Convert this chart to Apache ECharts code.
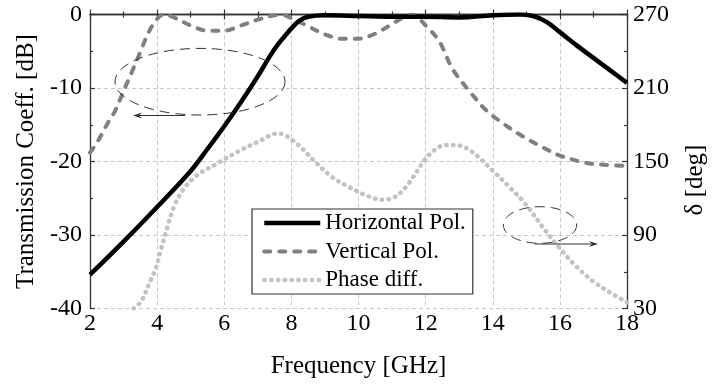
<!DOCTYPE html>
<html><head><meta charset="utf-8">
<script src="https://cdn.jsdelivr.net/npm/echarts@6/dist/echarts.min.js"></script>
<style>html,body{margin:0;padding:0;background:#fff}#c{width:716px;height:392px}</style>
</head><body><div id="c"></div>
<script>
// ---- Data ----
const xTicks = [2, 4, 6, 8, 10, 12, 14, 16, 18];
const dbTicks = [-40, -30, -20, -10, 0];
const degTicks = [30, 90, 150, 210, 270];

const hFreq = [2, 3, 4, 5, 5.5, 6, 6.5, 7, 7.5, 8, 8.25, 8.5, 9, 10, 11, 12, 13, 14, 14.8, 15.2, 15.6, 16, 16.5, 17, 17.5, 18];
const hVals = [-35.4, -30.9, -26.2, -21.3, -18.3, -15.2, -11.9, -8.4, -4.7, -1.9, -0.8, -0.3, -0.1, -0.2, -0.3, -0.3, -0.4, -0.1, 0, -0.2, -1.0, -2.4, -4.2, -5.9, -7.6, -9.3];

const vFreq = [2, 2.25, 2.5, 2.75, 3, 3.25, 3.5, 3.75, 4, 4.2, 4.5, 5, 5.5, 6, 6.5, 7, 7.5, 7.7, 8, 8.5, 9, 9.5, 10, 10.5, 11, 11.3, 11.6, 12, 12.4, 12.8, 13.3, 13.8, 14.3, 14.9, 15.5, 16, 16.8, 17.5, 18];
const vVals = [-18.8, -17.1, -15.0, -13.1, -10.4, -7.8, -5.1, -2.4, -0.6, 0, -0.4, -1.5, -2.2, -2.2, -1.5, -0.7, -0.1, 0, -0.5, -1.6, -2.7, -3.3, -3.3, -2.6, -1.3, -0.5, 0, -1.5, -3.6, -7.4, -10.4, -13.0, -14.8, -16.6, -18.1, -19.2, -20.2, -20.5, -20.6];

const pFreq = [3.3, 3.52, 3.77, 3.96, 4.11, 4.31, 4.5, 4.8, 5.2, 5.8, 6.4, 7.0, 7.6, 8.1, 8.7, 9.2, 9.7, 10.2, 10.7, 11.1, 11.5, 11.9, 12.2, 12.6, 13.0, 13.3, 13.6, 14.0, 14.5, 15.0, 15.5, 16.0, 16.5, 17.0, 17.5, 18.0];
const pVals = [30, 35.6, 50.6, 62.8, 77.8, 96.8, 113, 128, 139, 148.5, 158, 166, 173, 166, 150, 137.6, 129.4, 122.7, 118.8, 121.3, 132.2, 148.5, 158, 163.5, 163, 159.5, 153, 142.5, 129, 114.5, 96, 79, 64, 52, 43, 35];

const seriesNames = ['Horizontal Pol.', 'Vertical Pol.', 'Phase diff.'];

// ---- Chart ----
const FONT = 'Liberation Serif';
const AXIS_COLOR = '#333';
const chart = echarts.init(document.getElementById('c'), null, {renderer: 'canvas'});
function pairs(xs, ys) { return xs.map((x, i) => [x, ys[i]]); }
function ellipsePts(cx, cy, rx, ry) {
  const pts = [];
  for (let i = 0; i < 90; i++) {
    const t = i / 90 * 2 * Math.PI;
    pts.push([cx + rx * Math.cos(t), cy + ry * Math.sin(t)]);
  }
  return pts;
}
const styles = [
  {color: '#000', width: 4.5},
  {color: '#808080', width: 4, type: [6, 9], cap: 'round'},
  {color: '#c3c3c3', width: 4.5, type: [0.5, 6.3], cap: 'round'}
];
const tickCommon = {inside: true, length: 5, lineStyle: {color: AXIS_COLOR, width: 1.2}};
const minorCommon = {show: true, splitNumber: 2, length: 3, lineStyle: {color: AXIS_COLOR, width: 1.2}};
const labelCommon = {fontFamily: FONT, fontSize: 24, color: '#000'};
const nameStyle = {fontFamily: FONT, fontSize: 25, color: '#000'};
const gridLine = {show: true, lineStyle: {color: '#c8c8c8', width: 1, type: [4, 3]}};

const arrowHead = (x, y, dir) => ({
  type: 'polygon',
  shape: {points: [[x, y], [x - dir * 9, y - 3], [x - dir * 6, y], [x - dir * 9, y + 3]]},
  style: {fill: '#333'}
});

chart.setOption({
  animation: false,
  backgroundColor: '#fff',
  grid: {left: 90, right: 83, top: 14.5, bottom: 83.5},
  legend: {
    orient: 'vertical', left: 252, top: 209,
    padding: [2.5, 7, 2.5, 10], itemWidth: 56, itemHeight: 14, itemGap: 5.5,
    borderColor: '#333', borderWidth: 1.2, backgroundColor: '#fff',
    itemStyle: {opacity: 0},
    textStyle: {fontFamily: FONT, fontSize: 23, color: '#000'},
    data: seriesNames.map((n, i) => ({name: n, lineStyle: Object.assign({}, styles[i])}))
  },
  xAxis: [{
    type: 'value', position: 'bottom', min: xTicks[0], max: xTicks[xTicks.length - 1], interval: 2,
    name: 'Frequency [GHz]', nameLocation: 'middle', nameGap: 45.5,
    nameTextStyle: nameStyle,
    axisLine: {show: true, lineStyle: {color: AXIS_COLOR, width: 1.3}},
    axisTick: tickCommon, minorTick: minorCommon,
    axisLabel: Object.assign({margin: 3}, labelCommon),
    splitLine: gridLine
  }, {
    type: 'value', position: 'top', min: xTicks[0], max: xTicks[xTicks.length - 1], interval: 2,
    axisLine: {show: true, lineStyle: {color: AXIS_COLOR, width: 1.3}},
    axisTick: tickCommon, minorTick: minorCommon,
    axisLabel: {show: false}, splitLine: {show: false}
  }],
  yAxis: [{
    type: 'value', position: 'left', min: dbTicks[0], max: dbTicks[dbTicks.length - 1], interval: 10,
    name: 'Transmission Coeff. [dB]', nameLocation: 'middle', nameGap: 50.5,
    nameTextStyle: nameStyle,
    axisLine: {show: true, lineStyle: {color: AXIS_COLOR, width: 1.3}},
    axisTick: tickCommon, minorTick: minorCommon,
    axisLabel: Object.assign({margin: 8}, labelCommon),
    splitLine: gridLine
  }, {
    type: 'value', position: 'right', min: degTicks[0], max: degTicks[degTicks.length - 1], interval: 60,
    name: 'δ [deg]', nameLocation: 'middle', nameGap: 56,
    nameTextStyle: Object.assign({padding: [0, 37, 0, 0]}, nameStyle),
    axisLine: {show: true, lineStyle: {color: AXIS_COLOR, width: 1.3}},
    axisTick: tickCommon, minorTick: minorCommon,
    axisLabel: Object.assign({margin: 6}, labelCommon),
    splitLine: {show: false}
  }],
  series: [{
    name: seriesNames[0], type: 'line', xAxisIndex: 0, yAxisIndex: 0,
    data: pairs(hFreq, hVals), symbol: 'none', smooth: 0.35,
    lineStyle: styles[0], itemStyle: {color: styles[0].color}, z: 4
  }, {
    name: seriesNames[1], type: 'line', xAxisIndex: 0, yAxisIndex: 0,
    data: pairs(vFreq, vVals), symbol: 'none', smooth: 0.35,
    lineStyle: styles[1], itemStyle: {color: styles[1].color}, z: 3
  }, {
    name: seriesNames[2], type: 'line', xAxisIndex: 0, yAxisIndex: 1,
    data: pairs(pFreq, pVals), symbol: 'none', smooth: 0.35,
    lineStyle: styles[2], itemStyle: {color: styles[2].color}, z: 2
  }],
  graphic: [
    {type: 'polygon', shape: {points: ellipsePts(200, 81.7, 85, 33.3)}, style: {fill: 'none', stroke: '#333', lineWidth: 1, lineDash: [10, 6]}, z: 10},
    {type: 'line', shape: {x1: 185, y1: 115.5, x2: 137, y2: 115.5}, style: {stroke: '#333', lineWidth: 1.2}, z: 10},
    arrowHead(133, 115.5, -1),
    {type: 'polygon', shape: {points: ellipsePts(540, 225, 36.7, 18.3)}, style: {fill: 'none', stroke: '#333', lineWidth: 1, lineDash: [10, 6]}, z: 10},
    {type: 'line', shape: {x1: 535, y1: 244, x2: 594, y2: 244}, style: {stroke: '#333', lineWidth: 1.2}, z: 10},
    arrowHead(598, 244, 1)
  ]
});
</script>
</body></html>
